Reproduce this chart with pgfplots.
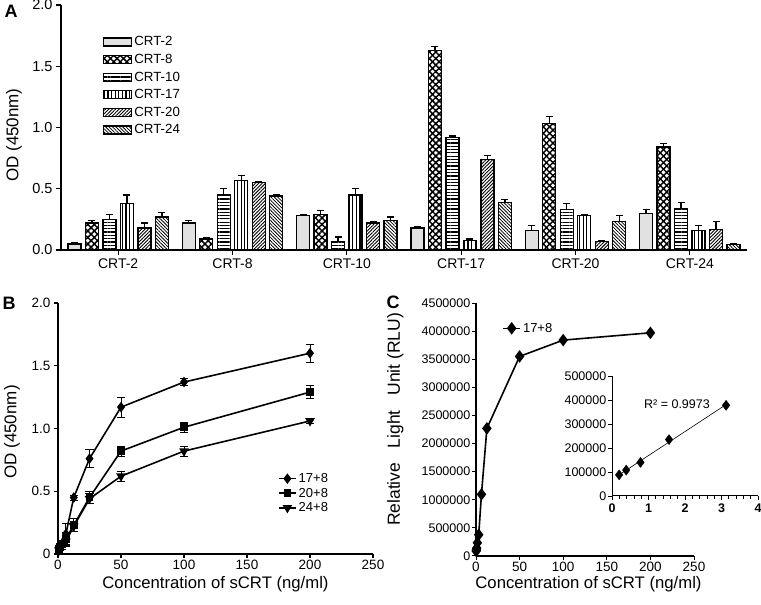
\documentclass[border=0pt]{standalone}
\usepackage{fontspec}
\setmainfont{Liberation Sans}
\usepackage{pgfplots}
\pgfplotsset{compat=1.18}
\usetikzlibrary{patterns.meta}

\newcommand{\fs}[1]{\fontsize{#1}{#1}\selectfont}

\pgfplotsset{
  every axis/.append style={
    scale only axis,
    axis lines=left,
    axis line style={-, line width=1.6pt},
    tick align=outside,
    major tick length=5pt,
    tick style={line width=1.2pt, black},
    /pgf/number format/assume math mode=true,
  },
  barA/.style={draw=black, line width=1.3pt},
  barimg/.style={legend image code/.code={\draw[##1] (0pt,-4pt) rectangle (28pt,4pt);}},
}

\begin{document}
\begin{tikzpicture}[x=1pt,y=1pt]
\useasboundingbox (0,0) rectangle (761,605);

% ---------- panel A ----------
\begin{axis}[
  at={(61pt,355pt)}, anchor=south west,
  width=686pt, height=245pt,
  ybar=4.5pt, bar width=13pt,
  xmin=-0.5, xmax=5.5, ymin=0, ymax=2,
  xtick={0,1,2,3,4,5},
  xticklabels={CRT-2,CRT-8,CRT-10,CRT-17,CRT-20,CRT-24},
  x tick label style={font=\fs{14}},
  ytick={0,0.5,1,1.5,2},
  yticklabel style={font=\fs{14.5}, /pgf/number format/fixed, /pgf/number format/fixed zerofill, /pgf/number format/precision=1},
  ylabel={OD (450nm)},
  ylabel style={font=\fs{17}, at={(axis description cs:-0.0685,0.469)}, anchor=center},
  error bars/y dir=plus, error bars/y explicit,
  error bars/error bar style={line width=1.3pt, black},
  error bars/error mark options={rotate=90, mark size=3.5pt, line width=1.3pt, black},
  legend style={at={(0.061,0.88)}, anchor=north west, draw=none, fill=none,
    font=\fs{13.3}, row sep=2.8pt, inner sep=0pt},
  legend cell align=left,
]
\addplot[barA, barimg, fill=gray!30, postaction={pattern={Dots[distance=2pt, radius=0.6pt]}, pattern color=white}] coordinates {
 (0,0.05) +- (0,0.01) (1,0.22) +- (0,0.02) (2,0.28) +- (0,0.01)
 (3,0.18) +- (0,0.01) (4,0.16) +- (0,0.04) (5,0.30) +- (0,0.03)};
\addplot[barA, barimg, pattern={Lines[angle=45, distance=4.6pt, line width=1.5pt]},
  postaction={pattern={Lines[angle=-45, distance=4.6pt, line width=1.5pt]}}] coordinates {
 (0,0.22) +- (0,0.02) (1,0.09) +- (0,0.01) (2,0.29) +- (0,0.035)
 (3,1.63) +- (0,0.03) (4,1.03) +- (0,0.06) (5,0.84) +- (0,0.03)};
\addplot[barA, barimg, pattern={Lines[angle=0, distance=3.3pt, line width=1.2pt]}] coordinates {
 (0,0.25) +- (0,0.04) (1,0.45) +- (0,0.05) (2,0.07) +- (0,0.035)
 (3,0.92) +- (0,0.01) (4,0.33) +- (0,0.05) (5,0.34) +- (0,0.05)};
\addplot[barA, barimg, pattern={Lines[angle=90, distance=3.6pt, line width=1.2pt]}] coordinates {
 (0,0.38) +- (0,0.07) (1,0.57) +- (0,0.04) (2,0.45) +- (0,0.05)
 (3,0.08) +- (0,0.01) (4,0.28) +- (0,0.01) (5,0.16) +- (0,0.04)};
\addplot[barA, barimg, pattern={Lines[angle=45, distance=2.4pt, line width=0.9pt]}] coordinates {
 (0,0.18) +- (0,0.04) (1,0.55) +- (0,0.01) (2,0.22) +- (0,0.01)
 (3,0.74) +- (0,0.03) (4,0.07) +- (0,0.01) (5,0.17) +- (0,0.06)};
\addplot[barA, barimg, pattern={Lines[angle=-45, distance=2.4pt, line width=0.8pt]}] coordinates {
 (0,0.27) +- (0,0.035) (1,0.44) +- (0,0.015) (2,0.24) +- (0,0.03)
 (3,0.39) +- (0,0.02) (4,0.23) +- (0,0.05) (5,0.045) +- (0,0.01)};
\legend{CRT-2,CRT-8,CRT-10,CRT-17,CRT-20,CRT-24}
\end{axis}

% ---------- panel B ----------
\begin{axis}[
  at={(58pt,51pt)}, anchor=south west,
  width=315pt, height=251pt,
  xmin=0, xmax=250, ymin=0, ymax=2,
  major tick length=4pt,
  xtick={0,50,100,150,200,250},
  ytick={0,0.5,1,1.5,2},
  yticklabels={0,0.5,1.0,1.5,2.0},
  tick label style={font=\fs{13.5}},
  xticklabel style={inner sep=1.5pt},
  xlabel={Concentration of sCRT (ng/ml)},
  xlabel style={font=\fs{16.7}, at={(axis description cs:0.5,-0.122)}, anchor=center},
  ylabel={OD (450nm)},
  ylabel style={font=\fs{17}, at={(axis description cs:-0.146,0.486)}, anchor=center},
  error bars/y dir=both, error bars/y explicit,
  error bars/error bar style={line width=0.8pt, black},
  error bars/error mark options={rotate=90, mark size=4pt, line width=0.8pt, black},
  legend style={at={(0.698,0.33)}, anchor=north west, draw=none, fill=none,
    font=\fs{13}, row sep=0pt, inner sep=0pt},
  legend cell align=left,
]
\addplot[black, line width=1.6pt, mark=diamond*, mark size=4pt] coordinates {
 (0.78,0.03) +- (0,0.01) (1.5625,0.05) +- (0,0.02) (3.125,0.08) +- (0,0.03)
 (6.25,0.16) +- (0,0.08) (12.5,0.45) +- (0,0.02) (25,0.76) +- (0,0.07)
 (50,1.17) +- (0,0.08) (100,1.37) +- (0,0.03) (200,1.60) +- (0,0.07)};
\addplot[black, line width=1.6pt, mark=square*, mark size=3pt] coordinates {
 (0.78,0.04) +- (0,0.02) (1.5625,0.06) +- (0,0.03) (3.125,0.08) +- (0,0.03)
 (6.25,0.12) +- (0,0.05) (12.5,0.23) +- (0,0.05) (25,0.45) +- (0,0.05)
 (50,0.82) +- (0,0.04) (100,1.01) +- (0,0.04) (200,1.29) +- (0,0.05)};
\addplot[black, line width=1.6pt, mark=triangle*, mark options={rotate=180}, mark size=4pt] coordinates {
 (0.78,0.03) +- (0,0.02) (1.5625,0.05) +- (0,0.02) (3.125,0.07) +- (0,0.03)
 (6.25,0.10) +- (0,0.04) (12.5,0.22) +- (0,0.04) (25,0.44) +- (0,0.04)
 (50,0.62) +- (0,0.04) (100,0.82) +- (0,0.04) (200,1.06) +- (0,0.02)};
\legend{17+8,20+8,24+8}
\end{axis}

% ---------- panel C ----------
\begin{axis}[
  at={(476pt,49pt)}, anchor=south west,
  width=218pt, height=253pt,
  axis line style={-, line width=1.2pt},
  tick style={line width=1pt, black},
  major tick length=4pt,
  xmin=0, xmax=250, ymin=0, ymax=4500000,
  xtick={0,50,100,150,200,250},
  ytick={0,500000,1000000,1500000,2000000,2500000,3000000,3500000,4000000,4500000},
  scaled y ticks=false,
  yticklabel style={font=\fs{12.5}, inner sep=1.5pt, /pgf/number format/fixed, /pgf/number format/1000 sep={}},
  xticklabel style={font=\fs{13.5}, inner sep=1.5pt},
  xlabel={Concentration of sCRT (ng/ml)},
  xlabel style={font=\fs{16.7}, at={(axis description cs:0.516,-0.11)}, anchor=center},
  ylabel={Relative\ \ \ Light\ \ \ Unit (RLU)},
  ylabel style={font=\fs{17.5}, at={(axis description cs:-0.37,0.54)}, anchor=center},
  legend style={at={(0.12,0.90)}, anchor=west, draw=none, fill=none,
    font=\fs{13}, inner sep=0pt},
]
\addplot[black, line width=1.6pt, mark=diamond*, mark size=5pt] coordinates {
 (0.195,88000) (0.39,108000) (0.78,140000) (1.5625,235000) (3.125,378000)
 (6.25,1097000) (12.5,2270000) (50,3550000) (100,3840000) (200,3970000)};
\legend{17+8}
\end{axis}

% ---------- inset ----------
\begin{axis}[
  at={(612pt,109pt)}, anchor=south west,
  width=146pt, height=120pt,
  axis line style={-, line width=1pt},
  tick style={line width=0.8pt, black},
  major tick length=4pt, minor tick length=3pt,
  xmin=0, xmax=4, ymin=0, ymax=500000,
  xtick={0,1,2,3,4}, minor x tick num=4,
  ytick={0,100000,200000,300000,400000,500000},
  scaled y ticks=false,
  yticklabel style={font=\fs{12.5}, inner sep=1.5pt, /pgf/number format/fixed, /pgf/number format/1000 sep={}},
  xticklabel style={font=\bfseries\fs{12.5}},
]
\addplot[black, line width=0.6pt] coordinates {(0.195,88000) (3.125,381000)};
\addplot[only marks, black, mark=diamond*, mark size=5pt] coordinates {
 (0.195,88000) (0.39,108000) (0.78,140000) (1.5625,235000) (3.125,378000)};
\node[font=\fs{12.5}] at (axis cs:1.78,383000) {R² = 0.9973};
\end{axis}

% panel letters
\node[font=\bfseries\fs{18}] at (11,594) {A};
\node[font=\bfseries\fs{18}] at (9,302) {B};
\node[font=\bfseries\fs{18}] at (393,303) {C};
\end{tikzpicture}
\end{document}
